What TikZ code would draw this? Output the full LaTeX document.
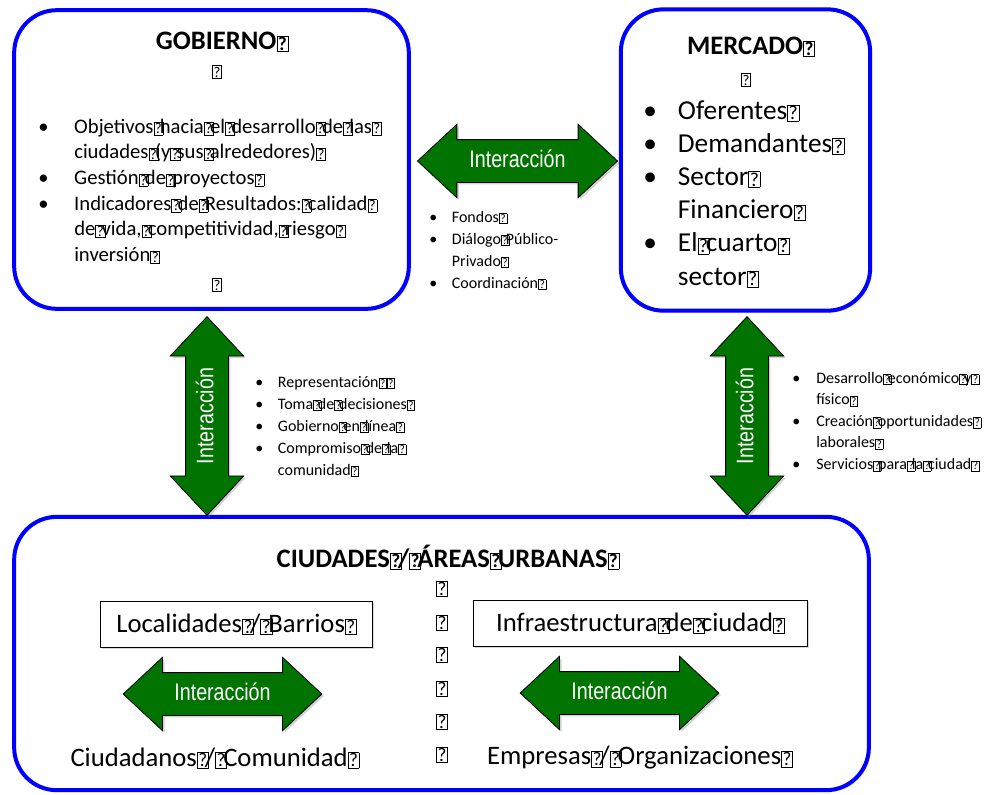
\documentclass[tikz,border=0pt]{standalone}
\usepackage{fontspec}
\setmainfont{Carlito}
\newfontfamily\narrowfont[FakeStretch=0.82]{Liberation Sans}
\usetikzlibrary{shapes.arrows,shadows}

\definecolor{boxblue}{RGB}{0,0,255}
\definecolor{arrowgreen}{RGB}{0,115,0}

% missing-glyph box as printed in the picture
\newcommand{\qbox}{\raisebox{-0.03em}{\fboxsep=0.6pt\fboxrule=0.45pt\fbox{\scalebox{0.72}{?}}}}
\newcommand{\qs}{\makebox[0.3em][l]{\qbox}}
\newlength{\bulind}
\newcommand{\bitem}[1]{\noindent\hangindent=\bulind\hangafter=1\makebox[\bulind][l]{\textbullet}#1\par}

\begin{document}
\begin{tikzpicture}[x=0.75pt, y=-0.75pt]
	\tikzset{
		area/.style={draw=boxblue, line width=3pt, rounded corners=32pt, fill=white,
			drop shadow={opacity=0.25, shadow xshift=1.5pt, shadow yshift=-1.5pt}},
		interact/.style={double arrow, draw=black, line width=0.6pt, fill=arrowgreen, text=white,
			font=\narrowfont\fontsize{18}{20}\selectfont, double arrow head extend=11.5pt,
			double arrow tip angle=86, text height=13pt, text depth=3.5pt, inner xsep=0pt,
			inner ysep=7.5pt, minimum height=149pt,
			drop shadow={opacity=0.35, shadow xshift=1.5pt, shadow yshift=-1.5pt}},
		lista/.style={anchor=base west, inner sep=0pt, text width=#1},
		head/.style={font=\bfseries\fontsize{20}{24}\selectfont, inner sep=0pt},
		big/.style={font=\fontsize{20}{24}\selectfont, inner sep=0pt},
		label box/.style={draw=black, line width=0.6pt, fill=white, minimum height=35pt,
			font=\fontsize{20}{24}\selectfont,
			drop shadow={opacity=0.3, shadow xshift=1.2pt, shadow yshift=-1.2pt}}
	}
	\useasboundingbox (0,0) rectangle (1007,794);

	% the three areas
	\node[area, minimum width=296pt, minimum height=224pt] (gob) at (211.5,159.5) {};
	\node[area, minimum width=187pt, minimum height=226pt] (mer) at (745.5,160) {};
	\node[area, minimum width=641pt, minimum height=205pt] (ciu) at (441.5,653.5) {};

	% gobierno
	\node[head] (gobT) at (222,42) {GOBIERNO\qbox};
	\node[big, font=\fontsize{15.5}{19}\selectfont] (gobQa) at (217,72) {\qbox};
	\node[lista=290pt, font=\fontsize{15.5}{19.3}\selectfont] (gobL) at (38,133) {\setlength{\bulind}{27pt}%
		\bitem{Objetivos\qs hacia\qs el\qs desarrollo\qs de\qs las\qbox\newline ciudades\qs(y\qs sus\qs alrededores)\qbox}
		\bitem{Gesti\'on\qs de\qs proyectos\qbox}
		\bitem{Indicadores\qs de\qs Resultados:\qs calidad\qbox\newline de\qs vida,\qs competitividad,\qs riesgo\qbox\newline inversi\'on\qbox}};
	\node[big, font=\fontsize{15.5}{19}\selectfont] (gobQb) at (217,285) {\qbox};

	% mercado
	\node[head] (merT) at (751,47) {MERCADO\qbox};
	\node[big, font=\fontsize{15.5}{19}\selectfont] (merQ) at (746,80) {\qbox};
	\node[lista=150pt, font=\fontsize{20.5}{24.9}\selectfont] (merL) at (643,119) {\setlength{\bulind}{26pt}%
		\bitem{Oferentes\qbox}
		\bitem{Demandantes\qbox}
		\bitem{Sector\qbox\newline Financiero\qbox}
		\bitem{El\qs cuarto\qbox\newline sector\qbox}};

	% interacciones
	\node[interact, minimum height=150pt] (iGM) at (517.5,161) {Interacci\'on};
	\node[interact, rotate=90] (iGC) at (207,416) {Interacci\'on};
	\node[interact, rotate=90] (iMC) at (747,416) {Interacci\'on};

	\node[lista=140pt, font=\fontsize{12}{16.5}\selectfont] (gmL) at (429,222) {\setlength{\bulind}{17pt}%
		\bitem{Fondos\qbox}
		\bitem{Di\'alogo\qs P\'ublico-\newline Privado\qbox}
		\bitem{Coordinaci\'on\qbox}};
	\node[lista=150pt, font=\fontsize{12}{16.5}\selectfont] (gcL) at (255,387) {\setlength{\bulind}{17pt}%
		\bitem{Representaci\'on\qbox\qbox}
		\bitem{Toma\qs de\qs decisiones\qbox}
		\bitem{Gobierno\qs en\qs l\'inea\qbox}
		\bitem{Compromiso\qs de\qs la\qbox\newline comunidad\qbox}};
	\node[lista=170pt, font=\fontsize{12}{16.2}\selectfont] (mcL) at (792,383) {\setlength{\bulind}{18pt}%
		\bitem{Desarrollo\qs econ\'omico\qs y\qbox\newline f\'isico\qbox}
		\bitem{Creaci\'on\qs oportunidades\qbox\newline laborales\qbox}
		\bitem{Servicios\qs para\qs la\qs ciudad\qbox}};

	% ciudades
	\node[head] (ciuT) at (448,557) {CIUDADES\qs/\qs \'AREAS\qs URBANAS\qbox};
	\foreach \y [count=\i] in {589,623,655,689,722,755}
		\node[big] (col\i) at (442,\y) {\qbox};
	\node[label box, minimum width=204pt] (loc) at (236.5,624.5) {Localidades\qs/\qs Barrios\qbox};
	\node[label box, minimum width=251pt] (inf) at (640.5,623.5) {Infraestructura\qs de\qs ciudad\qbox};
	\node[interact] (iLC) at (222.5,694) {Interacci\'on};
	\node[interact] (iIE) at (619.5,693) {Interacci\'on};
	\node[big] (ciud) at (215,758) {Ciudadanos\qs/\qs Comunidad\qbox};
	\node[big] (emp) at (640,758) {Empresas\qs/\qs Organizaciones\qbox};
\end{tikzpicture}
\end{document}
